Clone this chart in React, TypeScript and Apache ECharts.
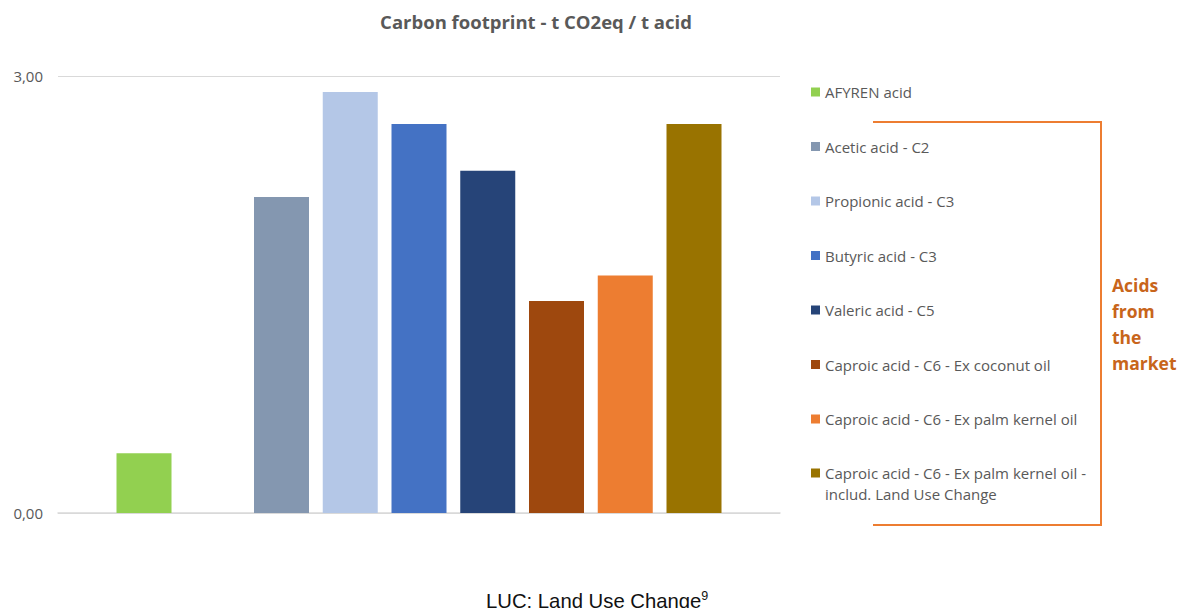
import React, { useEffect, useRef } from "react";
import * as echarts from "echarts";

const title = "Carbon footprint - t CO2eq / t acid";
const seriesNames = [
  "AFYREN acid",
  "",
  "Acetic acid - C2",
  "Propionic acid - C3",
  "Butyric acid - C3",
  "Valeric acid - C5",
  "Caproic acid - C6 - Ex coconut oil",
  "Caproic acid - C6 - Ex palm kernel oil",
  "Caproic acid - C6 - Ex palm kernel oil - includ. Land Use Change",
];
const seriesValues: (number | null)[] = [0.41, null, 2.17, 2.89, 2.67, 2.35, 1.455, 1.63, 2.67];
const seriesColors = [
  "#92d050",
  "#ffffff",
  "#8497b0",
  "#b4c7e7",
  "#4472c4",
  "#264478",
  "#9e480e",
  "#ed7d31",
  "#997300",
];
const yTicks = [0, 3];
const lastLegendLines = ["Caproic acid - C6 - Ex palm kernel oil -", "includ. Land Use Change"];
const bracketLabel = ["Acids", "from", "the", "market"];
const footnote = "LUC: Land Use Change";
const footnoteSup = "9";

export default function App() {
  const ref = useRef<HTMLDivElement>(null);
  useEffect(() => {
    if (!ref.current) return;
    const chart = echarts.init(ref.current, null, { renderer: "svg" });
    const legendNames = seriesNames.filter((n) => n !== "");
    const firstLegend = legendNames.slice(0, 7);
    const lastLegend = legendNames.slice(7);
    const series = seriesNames.map((name, i) => ({
      name: name === "" ? "blank" : name,
      type: "bar",
      data: [seriesValues[i]],
      barWidth: 55,
      barGap: "25%",
      itemStyle: { color: seriesColors[i] },
    }));
    const legendText = { fontFamily: "Open Sans", fontSize: 15, color: "#595959" };
    chart.setOption({
      animation: false,
      title: {
        text: title,
        left: 536,
        textAlign: "center",
        top: 12,
        padding: 0,
        textStyle: { fontFamily: "Open Sans", fontSize: 18.5, fontWeight: "bold", color: "#595959" },
      },
      grid: { left: 58, right: 399, top: 76, bottom: 95, containLabel: false },
      xAxis: {
        type: "category",
        data: [""],
        axisLine: { lineStyle: { color: "#d9d9d9", width: 1.5 } },
        axisTick: { show: false },
        axisLabel: { show: false },
      },
      yAxis: {
        type: "value",
        min: yTicks[0],
        max: yTicks[yTicks.length - 1],
        interval: yTicks[1] - yTicks[0],
        axisLine: { show: false },
        axisTick: { show: false },
        splitLine: { lineStyle: { color: "#d9d9d9", width: 1 } },
        axisLabel: {
          margin: 15,
          fontFamily: "Open Sans",
          fontSize: 15,
          color: "#595959",
          formatter: (v: number) => v.toFixed(2).replace(".", ","),
        },
      },
      legend: [
        {
          data: firstLegend,
          orient: "vertical",
          left: 811,
          top: 83,
          padding: 0,
          itemWidth: 9,
          itemHeight: 9,
          itemGap: 36.5,
          icon: "rect",
          selectedMode: false,
          textStyle: { ...legendText, lineHeight: 18 },
        },
        {
          data: lastLegend,
          orient: "vertical",
          left: 811,
          top: 441.5,
          padding: 0,
          itemWidth: 9,
          itemHeight: 9,
          icon: "rect",
          selectedMode: false,
          formatter: () => " \n" + lastLegendLines.join("\n"),
          textStyle: { ...legendText, lineHeight: 21 },
        },
      ],
      graphic: [
        {
          type: "polyline",
          shape: { points: [[873, 122], [1101, 122], [1101, 525], [873, 525]] },
          style: { stroke: "#ed7d31", lineWidth: 2, fill: null },
        },
        {
          type: "text",
          x: 1112,
          y: 272,
          style: {
            text: bracketLabel.join("\n"),
            fontFamily: "Open Sans",
            fontSize: 17.5,
            fontWeight: "bold",
            lineHeight: 26,
            fill: "#c8651b",
          },
        },
        {
          type: "text",
          x: 486,
          y: 589,
          style: {
            text: `{a|${footnote}}{s|${footnoteSup}}`,
            rich: {
              a: { fontFamily: "Liberation Sans", fontSize: 20.3, fill: "#111111" },
              s: { fontFamily: "Liberation Sans", fontSize: 12.5, fill: "#111111", padding: [0, 0, 10, 0] },
            },
          },
        },
      ],
      series,
    });
    return () => chart.dispose();
  }, []);
  return (
    <div
      ref={ref}
      style={{ position: "absolute", left: 0, top: 0, width: 1179, height: 608 }}
    />
  );
}
